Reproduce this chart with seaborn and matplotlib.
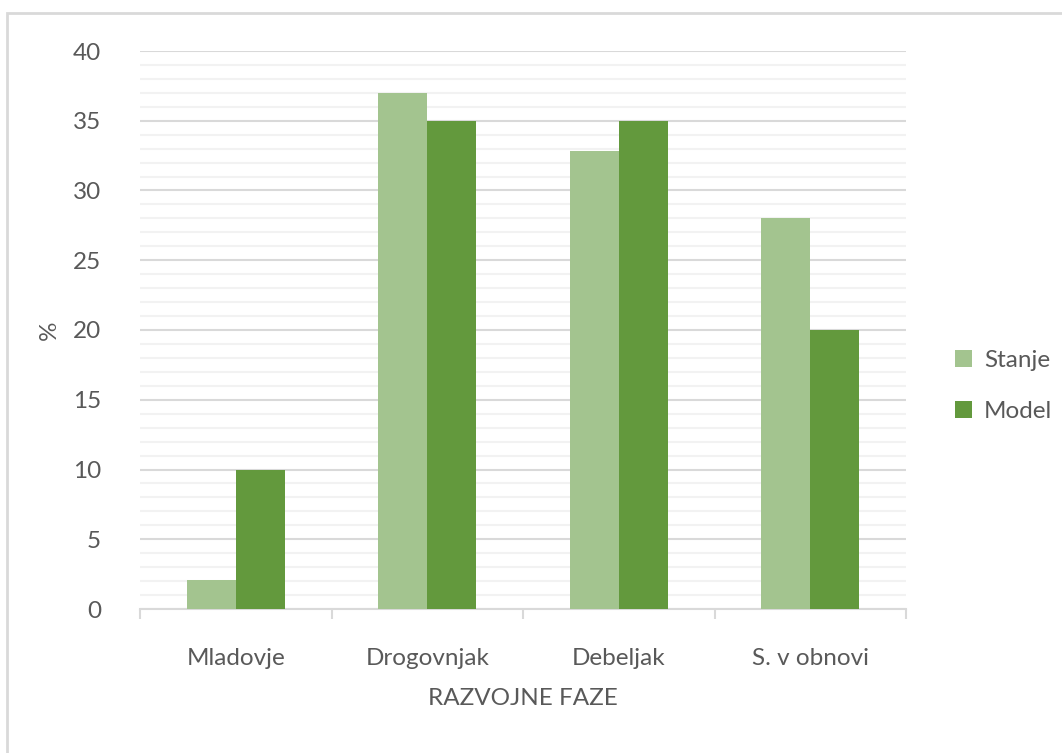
import matplotlib
matplotlib.use("Agg")
import matplotlib.pyplot as plt
from matplotlib.patches import Rectangle
from matplotlib.ticker import MultipleLocator, FixedLocator
import seaborn as sns
import pandas as pd

# ── Data ─────────────────────────────────────────────
faze   = ["Mladovje", "Drogovnjak", "Debeljak", "S. v obnovi"]
stanje = [2.1, 37.0, 32.8, 28.0]
model  = [10.0, 35.0, 35.0, 20.0]
serije = ["Stanje", "Model"]
barve  = ["#A3C48F", "#63993D"]

df = pd.DataFrame({
    "faza": faze * 2,
    "vrednost": stanje + model,
    "serija": [serije[0]] * len(faze) + [serije[1]] * len(faze),
})

sns.set_theme(style="white")
plt.rcParams["font.family"] = ["Lato", "DejaVu Sans"]
TXT = "#595959"
FS = 17.5

fig = plt.figure(figsize=(10.62, 7.53), dpi=100)
ax = fig.add_axes([140 / 1062, 1 - 609 / 753, 766 / 1062, 558 / 753])

sns.barplot(data=df, x="faza", y="vrednost", hue="serija", order=faze,
            hue_order=serije, palette=barve, width=0.51, gap=0,
            saturation=1, linewidth=0, ax=ax, legend=True, zorder=3)

# ── Axes styling ─────────────────────────────────────
ax.set_ylim(0, 40)
ax.set_xlim(-0.5, len(faze) - 0.5)
ax.yaxis.set_major_locator(MultipleLocator(5))
ax.yaxis.set_minor_locator(MultipleLocator(1))
ax.grid(True, which="major", axis="y", color="#D9D9D9", linewidth=1.5, zorder=0)
ax.grid(True, which="minor", axis="y", color="#F2F2F2", linewidth=1.5, zorder=0)
ax.set_axisbelow(True)

for s in ["top", "right", "left"]:
    ax.spines[s].set_visible(False)
ax.spines["bottom"].set_color("#D9D9D9")
ax.spines["bottom"].set_linewidth(1.5)

ax.xaxis.set_minor_locator(FixedLocator([i - 0.5 for i in range(len(faze) + 1)]))
ax.tick_params(axis="x", which="major", bottom=False, pad=22, labelsize=FS, labelcolor=TXT)
ax.tick_params(axis="x", which="minor", bottom=True, length=7, width=1.5,
               color="#D9D9D9", direction="out")
ax.tick_params(axis="y", which="both", left=False, pad=22, labelsize=FS, labelcolor=TXT)

ax.set_xlabel("RAZVOJNE FAZE", fontsize=FS, color=TXT, labelpad=14)
ax.set_ylabel("%", fontsize=FS, color=TXT)
ax.yaxis.set_label_coords(-0.104, 0.5)

leg = ax.legend(loc="center left", bbox_to_anchor=(1.035, 0.40), frameon=False,
                fontsize=FS, handlelength=0.7, handleheight=0.7,
                labelspacing=1.25, handletextpad=0.5, labelcolor=TXT)

# outer chart border
fig.patches.append(Rectangle((7 / 1062, -0.05), 1.1, 1 - 13 / 753 + 0.05,
                             transform=fig.transFigure, fill=False,
                             edgecolor="#D9D9D9", linewidth=2))

fig.savefig("out.png", dpi=100, facecolor="white")
